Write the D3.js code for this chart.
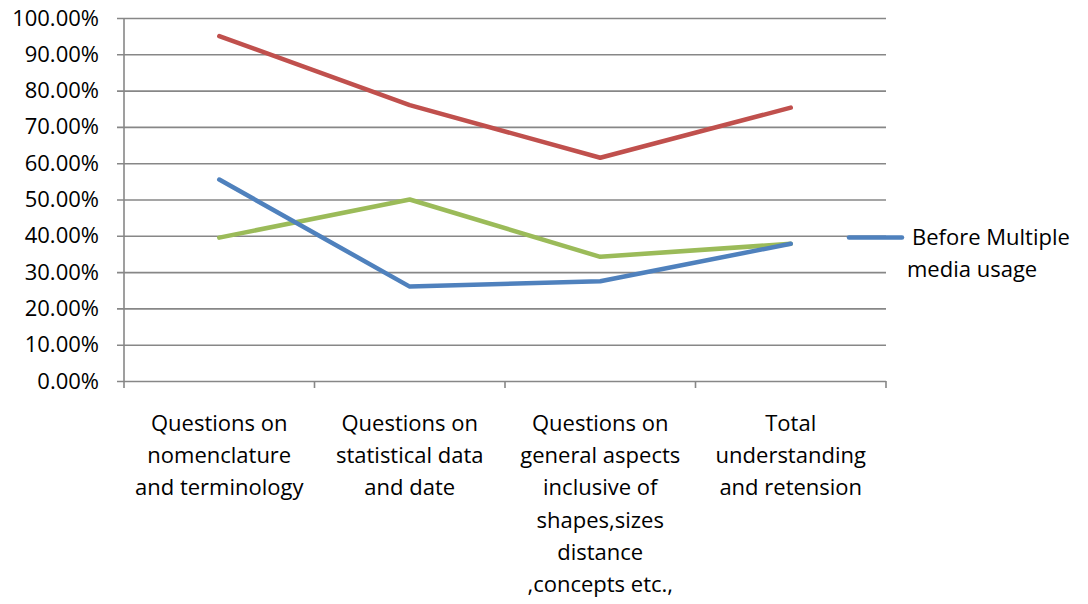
<!DOCTYPE html>
<html>
<head>
<meta charset="utf-8">
<script src="https://cdn.jsdelivr.net/npm/d3@7"></script>
<style>
  html, body { margin: 0; padding: 0; background: #fff; }
  svg { display: block; font-family: "Open Sans", Lato, sans-serif; }
</style>
</head>
<body>
<svg id="chart" width="1088" height="604"></svg>
<script>
// Categories (wrapped into lines for the axis labels)
const categories = [
  ["Questions on", "nomenclature", "and terminology"],
  ["Questions on", "statistical data", "and date"],
  ["Questions on", "general aspects", "inclusive of", "shapes,sizes", "distance", ",concepts etc.,"],
  ["Total", "understanding", "and retension"]
];

// Series values (fractions)
const beforeValues = [0.555, 0.26, 0.275, 0.378];
const afterValues  = [0.95, 0.76, 0.615, 0.753];
const thirdValues  = [0.395, 0.50, 0.342, 0.378];

const seriesNames  = ["Before Multiple media usage", "After Multiple media usage", "Difference"];
const yTicks = [0, 0.1, 0.2, 0.3, 0.4, 0.5, 0.6, 0.7, 0.8, 0.9, 1.0];

const series = [
  { name: seriesNames[0], values: beforeValues, color: "#4F81BD" },
  { name: seriesNames[1], values: afterValues,  color: "#C0504D" },
  { name: seriesNames[2], values: thirdValues,  color: "#9BBB59" }
];

const svg = d3.select("#chart");
const plotLeft = 124, plotRight = 886, plotTop = 18, plotBottom = 381;
const fontSize = 22;
const fontFamily = "'Open Sans', Lato, sans-serif";

const x = d3.scaleBand().domain(d3.range(categories.length)).range([plotLeft, plotRight]);
const y = d3.scaleLinear().domain([0, 1]).range([plotBottom, plotTop]);

const gridColor = "#878787";

// Horizontal gridlines with short ticks to the left of the axis
const yAxis = d3.axisLeft(y).tickValues(yTicks).tickSize(-(plotRight - plotLeft)).tickPadding(25)
  .tickFormat(d => (d * 100).toFixed(2) + "%");
const gy = svg.append("g").attr("transform", `translate(${plotLeft},0)`).call(yAxis);
gy.select(".domain").remove();
gy.selectAll(".tick line").attr("stroke", gridColor).attr("stroke-width", 1.6)
  .attr("x1", -7);
gy.selectAll(".tick text").attr("font-size", fontSize).attr("fill", "#000")
  .attr("font-family", fontFamily);

// Vertical axis line
svg.append("line").attr("x1", plotLeft).attr("x2", plotLeft).attr("y1", plotTop).attr("y2", plotBottom + 1)
  .attr("stroke", gridColor).attr("stroke-width", 1.6);

// Category boundary ticks below the horizontal axis
const bounds = d3.range(categories.length + 1).map(i => i < categories.length ? x(i) : plotRight);
svg.append("g").selectAll("line").data(bounds).join("line")
  .attr("x1", d => d).attr("x2", d => d).attr("y1", plotBottom).attr("y2", plotBottom + 7)
  .attr("stroke", gridColor).attr("stroke-width", 1.6);

// Category labels
const lab = svg.append("g").attr("font-size", fontSize).attr("fill", "#000").attr("text-anchor", "middle");
categories.forEach((lines, i) => {
  const cx = x(i) + x.bandwidth() / 2;
  const t = lab.append("text").attr("x", cx).attr("y", 431);
  lines.forEach((ln, j) => {
    t.append("tspan").attr("x", cx).attr("dy", j === 0 ? 0 : 32.2).text(ln);
  });
});

// Lines
const line = d3.line().x((d, i) => x(i) + x.bandwidth() / 2).y(d => y(d));
svg.append("g").selectAll("path").data([series[2], series[0], series[1]]).join("path")
  .attr("d", s => line(s.values))
  .attr("fill", "none")
  .attr("stroke", s => s.color)
  .attr("stroke-width", 4.5)
  .attr("stroke-linecap", "round")
  .attr("stroke-linejoin", "round");

// Legend (only the first entry fits)
const lg = svg.append("g");
lg.append("line").attr("x1", 849).attr("x2", 902).attr("y1", 237.5).attr("y2", 237.5)
  .attr("stroke", series[0].color).attr("stroke-width", 4.5).attr("stroke-linecap", "round");
const lt = lg.append("text").attr("font-size", fontSize).attr("fill", "#000");
lt.append("tspan").attr("x", 912).attr("y", 245).text("Before Multiple");
lt.append("tspan").attr("x", 907).attr("y", 277).text("media usage");
</script>
</body>
</html>
